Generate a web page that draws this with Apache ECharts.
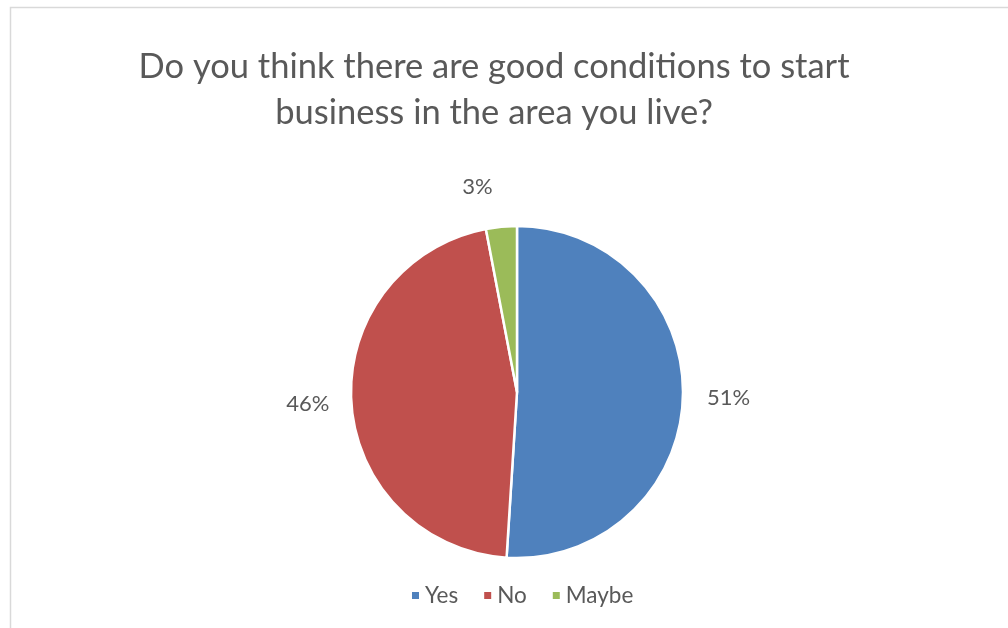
<!DOCTYPE html>
<html>
<head>
<meta charset="utf-8">
<script src="https://cdn.jsdelivr.net/npm/echarts@6/dist/echarts.min.js"></script>
<style>
  html, body { margin: 0; padding: 0; background: #fff; }
  #chart { width: 1008px; height: 628px; }
</style>
</head>
<body>
<div id="chart"></div>
<script>
// Survey answers and their shares (percent)
const categories = ['Yes', 'No', 'Maybe'];
const shares = [51, 46, 3];
const colors = ['#4F81BD', '#C0504D', '#9BBB59'];

const chart = echarts.init(document.getElementById('chart'), null, { renderer: 'canvas' });
const FONT = 'Lato, "Open Sans", sans-serif';

// label offset from the pie rim; the small slice label sits a bit further out
const labelGap = [19, 17, 40];

chart.setOption({
  backgroundColor: '#ffffff',
  animation: false,
  color: colors,
  graphic: [{
    type: 'rect',
    shape: { x: 10.5, y: 7.5, width: 1020, height: 640 },
    style: { fill: 'none', stroke: '#d9d9d9', lineWidth: 1.5 },
    silent: true,
    z: -1
  }],
  title: {
    text: 'Do you think there are good conditions to start\nbusiness in the area you live?',
    left: 489,
    top: 39,
    textAlign: 'center',
    textStyle: {
      fontFamily: FONT,
      fontSize: 34.5,
      fontWeight: 'normal',
      color: '#595959',
      lineHeight: 46
    }
  },
  legend: {
    bottom: 16,
    left: 405,
    itemWidth: 9,
    itemHeight: 9,
    itemGap: 24,
    icon: 'rect',
    textStyle: { fontFamily: FONT, fontSize: 22.5, color: '#595959' },
    data: categories
  },
  series: [{
    type: 'pie',
    center: [517, 392],
    radius: 166,
    startAngle: 90,
    clockwise: true,
    avoidLabelOverlap: false,
    itemStyle: { borderColor: '#ffffff', borderWidth: 2.5 },
    label: {
      show: true,
      position: 'outside',
      formatter: '{c}%',
      fontFamily: FONT,
      fontSize: 22,
      color: '#595959'
    },
    labelLine: { show: false, length: 20, length2: 0 },
    data: categories.map((name, i) => ({
      name,
      value: shares[i],
      labelLine: { show: false, length: labelGap[i], length2: 0 }
    }))
  }]
});
</script>
</body>
</html>
